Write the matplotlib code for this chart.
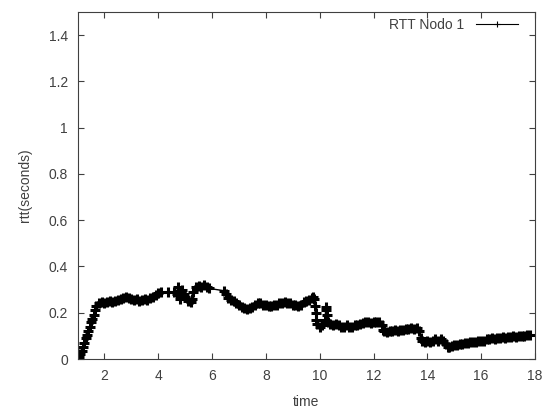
import matplotlib
matplotlib.use("Agg")
import matplotlib.pyplot as plt
from matplotlib.ticker import FormatStrFormatter

# RTT samples (time in s, rtt in s)
time = [1.0, 1.05, 1.1, 1.15, 1.2, 1.25, 1.3, 1.35, 1.4, 1.45, 1.5, 1.55, 1.6, 1.65, 1.7,
        1.8, 1.9,
        2.0, 2.1, 2.2, 2.3, 2.4, 2.5, 2.6, 2.7, 2.8, 2.9,
        3.0, 3.1, 3.2, 3.3, 3.4, 3.5, 3.6, 3.7, 3.8, 3.9,
        4.0, 4.1, 4.35, 4.6, 4.7, 4.75, 4.8, 4.85, 4.9, 4.95,
        5.0, 5.1, 5.2, 5.25, 5.3, 5.4, 5.5, 5.6, 5.7, 5.8, 5.9,
        6.45, 6.5, 6.6, 6.7, 6.8, 6.9,
        7.0, 7.1, 7.2, 7.3, 7.4, 7.5, 7.6, 7.7, 7.8, 7.9,
        8.0, 8.1, 8.2, 8.3, 8.4, 8.5, 8.6, 8.7, 8.8, 8.9,
        9.0, 9.1, 9.2, 9.3, 9.4, 9.5, 9.6, 9.7, 9.75, 9.8, 9.82, 9.85, 9.87, 9.9,
        10.0, 10.1, 10.2, 10.22, 10.25, 10.28, 10.3, 10.4, 10.5, 10.6, 10.7, 10.8, 10.9,
        11.0, 11.1, 11.2, 11.3, 11.4, 11.5, 11.6, 11.7, 11.8, 11.9,
        12.0, 12.1, 12.2, 12.3, 12.35, 12.4, 12.5, 12.6, 12.7, 12.8, 12.9,
        13.0, 13.1, 13.2, 13.3, 13.4, 13.5, 13.6, 13.7, 13.75, 13.8, 13.9,
        14.0, 14.1, 14.2, 14.3, 14.4, 14.5, 14.6, 14.7, 14.75, 14.8, 14.9,
        15.0, 15.1, 15.2, 15.3, 15.4, 15.5, 15.6, 15.7, 15.8, 15.9,
        16.0, 16.1, 16.2, 16.3, 16.4, 16.5, 16.6, 16.7, 16.8, 16.9,
        17.0, 17.1, 17.2, 17.3, 17.4, 17.5, 17.6, 17.7, 17.8]
rtt = [0.00, 0.01, 0.02, 0.035, 0.05, 0.07, 0.09, 0.105, 0.12, 0.14, 0.16, 0.175, 0.19, 0.21, 0.23,
       0.24, 0.245,
       0.24, 0.245, 0.25, 0.245, 0.25, 0.255, 0.26, 0.265, 0.27, 0.265,
       0.26, 0.255, 0.26, 0.25, 0.255, 0.26, 0.255, 0.265, 0.27, 0.275,
       0.285, 0.29, 0.29, 0.29, 0.28, 0.31, 0.26, 0.29, 0.30, 0.28,
       0.27, 0.25, 0.245, 0.26, 0.29, 0.31, 0.315, 0.31, 0.32, 0.31, 0.305,
       0.295, 0.28, 0.265, 0.255, 0.25, 0.24,
       0.235, 0.225, 0.22, 0.215, 0.22, 0.225, 0.235, 0.24, 0.24, 0.235,
       0.235, 0.23, 0.23, 0.235, 0.235, 0.24, 0.24, 0.245, 0.24, 0.24,
       0.235, 0.235, 0.23, 0.235, 0.245, 0.25, 0.255, 0.265, 0.27, 0.26, 0.23, 0.20, 0.17, 0.15,
       0.14, 0.145, 0.17, 0.21, 0.225, 0.19, 0.16, 0.15, 0.145, 0.15, 0.145, 0.14, 0.14,
       0.145, 0.14, 0.14, 0.145, 0.145, 0.15, 0.155, 0.16, 0.16, 0.155,
       0.16, 0.16, 0.16, 0.145, 0.125, 0.12, 0.115, 0.12, 0.12, 0.125, 0.12,
       0.125, 0.125, 0.13, 0.13, 0.135, 0.13, 0.135, 0.12, 0.09, 0.08, 0.075,
       0.08, 0.075, 0.08, 0.085, 0.08, 0.085, 0.08, 0.065, 0.05, 0.05, 0.055,
       0.06, 0.06, 0.065, 0.065, 0.07, 0.07, 0.075, 0.075, 0.075, 0.08,
       0.08, 0.08, 0.085, 0.085, 0.09, 0.085, 0.09, 0.09, 0.095, 0.09,
       0.095, 0.095, 0.10, 0.095, 0.10, 0.10, 0.10, 0.105, 0.105]

xticks = [2, 4, 6, 8, 10, 12, 14, 16, 18]
yticks = [0, 0.2, 0.4, 0.6, 0.8, 1.0, 1.2, 1.4]

plt.rcParams['font.family'] = ['Liberation Sans', 'DejaVu Sans']
grey = '#404040'

fig = plt.figure(figsize=(5.47, 4.09), dpi=100)
ax = fig.add_axes([0.1417, 0.1222, 0.8363, 0.8485])

ax.plot(time, rtt, color='black', lw=1.0, marker='+', markersize=7,
        markeredgewidth=2.2, label='RTT Nodo 1')

ax.set_xlim(1, 18)
ax.set_ylim(0, 1.5)
ax.set_xticks(xticks)
ax.set_yticks(yticks)
ax.yaxis.set_major_formatter(FormatStrFormatter('%g'))
ax.tick_params(direction='in', top=True, right=True, length=4,
               colors=grey, labelsize=10, pad=7)
for s in ax.spines.values():
    s.set_color(grey)
    s.set_linewidth(0.8)

ax.set_xlabel('time', fontsize=10, color=grey, labelpad=9)
ax.set_ylabel('rtt(seconds)', fontsize=10, color=grey, labelpad=12)

leg = ax.legend(loc='upper right', frameon=False, fontsize=10,
                markerfirst=False, handlelength=3.0, handletextpad=0.9,
                bbox_to_anchor=(0.99, 1.02))
for t in leg.get_texts():
    t.set_color(grey)
for h in leg.legend_handles:
    h.set_linewidth(0.8)
    h.set_markersize(5)
    h.set_markeredgewidth(0.8)

fig.savefig('out.png', dpi=100)
